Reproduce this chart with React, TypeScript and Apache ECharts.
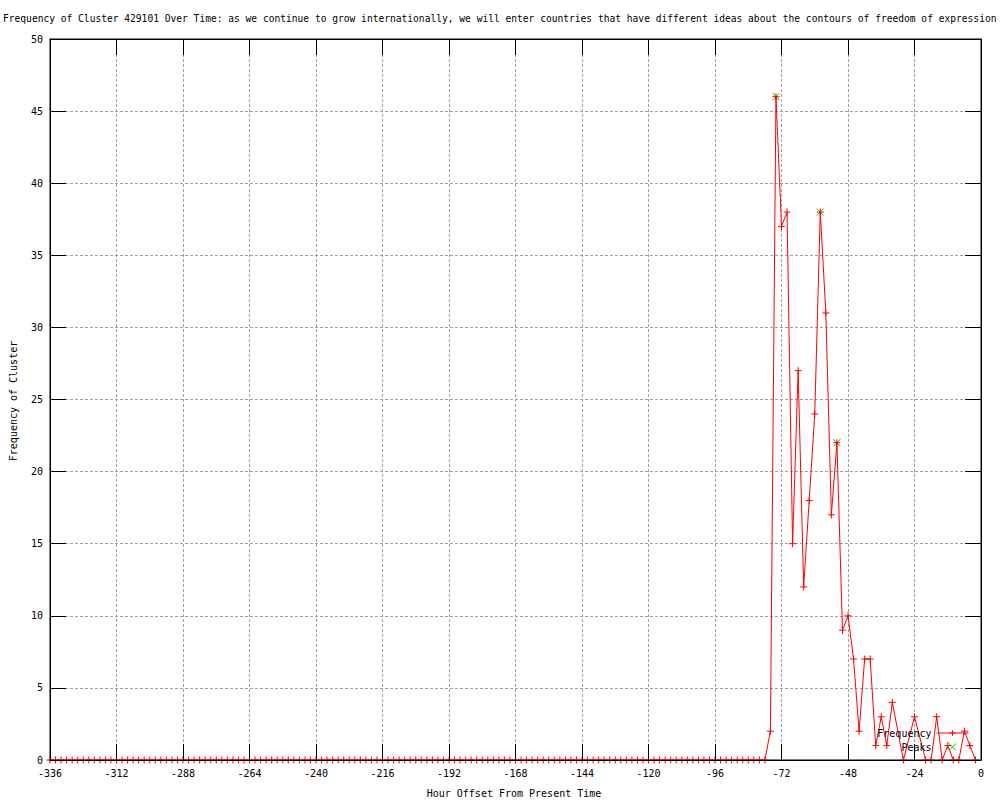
import React, { useEffect, useRef } from "react";
import * as echarts from "echarts";

const TITLE =
  "Frequency of Cluster 429101 Over Time: as we continue to grow internationally, we will enter countries that have different ideas about the contours of freedom of expression";
const X_NAME = "Hour Offset From Present Time";
const Y_NAME = "Frequency of Cluster";

const X_MIN = -336;
const X_MAX = 0;
const X_STEP = 24;
const Y_MIN = 0;
const Y_MAX = 50;
const Y_STEP = 5;

const hours = [
  -336, -334, -332, -330, -328, -326, -324, -322, -320, -318,
  -316, -314, -312, -310, -308, -306, -304, -302, -300, -298,
  -296, -294, -292, -290, -288, -286, -284, -282, -280, -278,
  -276, -274, -272, -270, -268, -266, -264, -262, -260, -258,
  -256, -254, -252, -250, -248, -246, -244, -242, -240, -238,
  -236, -234, -232, -230, -228, -226, -224, -222, -220, -218,
  -216, -214, -212, -210, -208, -206, -204, -202, -200, -198,
  -196, -194, -192, -190, -188, -186, -184, -182, -180, -178,
  -176, -174, -172, -170, -168, -166, -164, -162, -160, -158,
  -156, -154, -152, -150, -148, -146, -144, -142, -140, -138,
  -136, -134, -132, -130, -128, -126, -124, -122, -120, -118,
  -116, -114, -112, -110, -108, -106, -104, -102, -100, -98,
  -96, -94, -92, -90, -88, -86, -84, -82, -80, -78,
  -76, -74, -72, -70, -68, -66, -64, -62, -60, -58,
  -56, -54, -52, -50, -48, -46, -44, -42, -40, -38,
  -36, -34, -32, -28, -24, -20, -18, -16, -14, -12,
  -10, -8, -6, -4, -2,
];

const frequency = [
  0, 0, 0, 0, 0, 0, 0, 0, 0, 0,
  0, 0, 0, 0, 0, 0, 0, 0, 0, 0,
  0, 0, 0, 0, 0, 0, 0, 0, 0, 0,
  0, 0, 0, 0, 0, 0, 0, 0, 0, 0,
  0, 0, 0, 0, 0, 0, 0, 0, 0, 0,
  0, 0, 0, 0, 0, 0, 0, 0, 0, 0,
  0, 0, 0, 0, 0, 0, 0, 0, 0, 0,
  0, 0, 0, 0, 0, 0, 0, 0, 0, 0,
  0, 0, 0, 0, 0, 0, 0, 0, 0, 0,
  0, 0, 0, 0, 0, 0, 0, 0, 0, 0,
  0, 0, 0, 0, 0, 0, 0, 0, 0, 0,
  0, 0, 0, 0, 0, 0, 0, 0, 0, 0,
  0, 0, 0, 0, 0, 0, 0, 0, 0, 0,
  2, 46, 37, 38, 15, 27, 12, 18, 24, 38,
  31, 17, 22, 9, 10, 7, 2, 7, 7, 1,
  3, 1, 4, 0, 3, 0, 0, 3, 0, 1,
  0, 0, 2, 1, 0,
];

const peakHours = [-74, -58, -52];
const peakValues = [46, 38, 22];

const FONT_FAMILY = "'DejaVu Sans Mono', 'Liberation Mono', monospace";
const PLUS = "path://M3.5,0L3.5,7M0,3.5L7,3.5";
const CROSS = "path://M0,0L7,7M7,0L0,7";
const RED = "#ff0000";
const GREEN = "#00c000";
const GRID_GRAY = "#a0a0a0";

export default function App() {
  const ref = useRef<HTMLDivElement>(null);

  useEffect(() => {
    if (!ref.current) return;
    const chart = echarts.init(ref.current, undefined, { renderer: "svg" });

    const labelStyle = { color: "#000", fontFamily: FONT_FAMILY, fontSize: 10 };
    const tickStyle = { show: true, inside: true, length: 16, lineStyle: { color: "#000", width: 1 } };
    const splitStyle = {
      show: true,
      showMinLine: false,
      showMaxLine: false,
      lineStyle: { color: GRID_GRAY, width: 1, type: [3, 2] },
    };

    chart.setOption({
      animation: false,
      backgroundColor: "#ffffff",
      grid: {
        left: 50,
        right: 19,
        top: 39,
        bottom: 40,
        show: true,
        borderColor: "#000",
        borderWidth: 1,
        backgroundColor: "transparent",
      },
      legend: {
        data: ["Frequency", "Peaks"],
        orient: "vertical",
        right: 31,
        top: 726,
        align: "right",
        itemWidth: 32,
        itemHeight: 7,
        itemGap: 0,
        padding: 0,
        selectedMode: false,
        lineStyle: { width: 1 },
        itemStyle: { borderWidth: 1 },
        textStyle: { color: "#000", fontFamily: FONT_FAMILY, fontSize: 10, lineHeight: 14 },
      },
      xAxis: [
        {
          type: "value",
          position: "bottom",
          min: X_MIN,
          max: X_MAX,
          interval: X_STEP,
          z: 5,
          axisLine: { show: true, onZero: false, lineStyle: { color: "#000", width: 1 } },
          axisTick: tickStyle,
          axisLabel: { ...labelStyle, margin: 8, hideOverlap: false },
          splitLine: { show: false },
        },
        {
          type: "value",
          position: "top",
          min: X_MIN,
          max: X_MAX,
          interval: X_STEP,
          axisLine: { show: true, onZero: false, lineStyle: { color: "#000", width: 1 } },
          axisTick: tickStyle,
          axisLabel: { show: false },
          splitLine: splitStyle,
        },
      ],
      yAxis: [
        {
          type: "value",
          position: "left",
          min: Y_MIN,
          max: Y_MAX,
          interval: Y_STEP,
          z: 5,
          axisLine: { show: true, onZero: false, lineStyle: { color: "#000", width: 1 } },
          axisTick: tickStyle,
          axisLabel: { ...labelStyle, margin: 7 },
          splitLine: { show: false },
        },
        {
          type: "value",
          position: "right",
          min: Y_MIN,
          max: Y_MAX,
          interval: Y_STEP,
          axisLine: { show: true, onZero: false, lineStyle: { color: "#000", width: 1 } },
          axisTick: tickStyle,
          axisLabel: { show: false },
          splitLine: splitStyle,
        },
      ],
      series: [
        {
          type: "line",
          name: "Frequency",
          xAxisIndex: 0,
          yAxisIndex: 0,
          data: hours.map((h, i) => [h, frequency[i]]),
          symbol: PLUS,
          symbolSize: 7,
          showSymbol: true,
          showAllSymbol: true,
          silent: true,
          z: 3,
          lineStyle: { color: RED, width: 1 },
          itemStyle: { color: RED, borderColor: RED, borderWidth: 1 },
        },
        {
          type: "scatter",
          name: "Peaks",
          xAxisIndex: 0,
          yAxisIndex: 0,
          data: peakHours.map((h, i) => [h, peakValues[i]]),
          symbol: CROSS,
          symbolSize: 7,
          silent: true,
          z: 2,
          itemStyle: { color: GREEN, borderColor: GREEN, borderWidth: 1, opacity: 1 },
        },
      ],
      graphic: [
        {
          type: "text",
          x: 3,
          y: 18,
          style: {
            text: TITLE,
            fill: "#000",
            fontFamily: FONT_FAMILY,
            fontSize: 9.6,
            align: "left",
            verticalAlign: "middle",
          },
        },
        {
          type: "text",
          x: 514,
          y: 793,
          style: {
            text: X_NAME,
            fill: "#000",
            fontFamily: FONT_FAMILY,
            fontSize: 10,
            align: "center",
            verticalAlign: "middle",
          },
        },
        {
          type: "text",
          x: 13,
          y: 401,
          rotation: Math.PI / 2,
          style: {
            text: Y_NAME,
            fill: "#000",
            fontFamily: FONT_FAMILY,
            fontSize: 10,
            align: "center",
            verticalAlign: "middle",
          },
        },
      ],
    });

    return () => {
      chart.dispose();
    };
  }, []);

  return (
    <div
      ref={ref}
      style={{ position: "absolute", left: 0, top: 0, width: 1000, height: 800, background: "#fff" }}
    />
  );
}
